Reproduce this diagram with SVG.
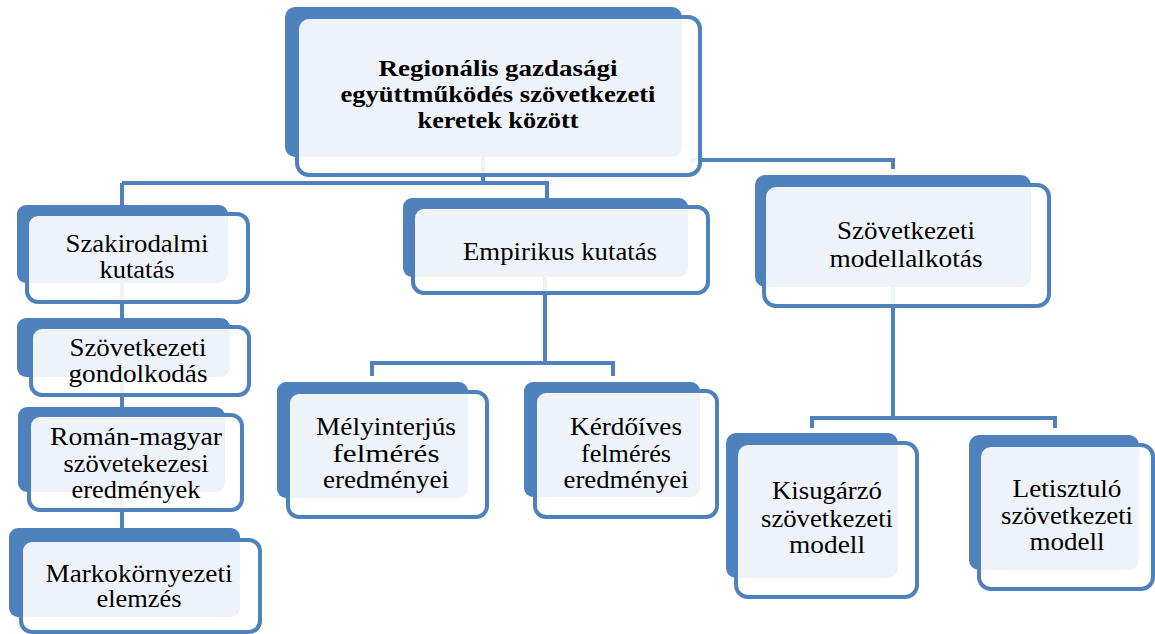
<svg xmlns="http://www.w3.org/2000/svg" width="1155" height="634" viewBox="0 0 1155 634">
<style>
.bk{fill:#4F81BD}
.fr{fill:#FFFFFF;fill-opacity:0.9;stroke:#4F81BD;stroke-width:4}
.cn{fill:none;stroke:#4F81BD;stroke-width:4}
text{font-family:"Liberation Serif","Times New Roman",serif;font-size:25px;fill:#000;text-anchor:middle}
.b{font-weight:bold;font-size:24px}
</style>
<rect width="1155" height="634" fill="#FFFFFF"/>
<g id="connectors">
<path class="cn" d="M483 157V183M122 183H547V199M122 183V528"/>
<path class="cn" d="M690 160H893V169"/>
<path class="cn" d="M545 277V363M372 376V363H613V376"/>
<path class="cn" d="M893 287V418M812 428V418H1055V428"/>
</g>
<g id="root">
<rect class="bk" x="285" y="7" width="397" height="150" rx="10"/>
<rect class="fr" x="297" y="17" width="403" height="158" rx="12"/>
<text class="b" x="498" y="76" textLength="239" lengthAdjust="spacingAndGlyphs">Regionális gazdasági</text>
<text class="b" x="498" y="102" textLength="315" lengthAdjust="spacingAndGlyphs">együttműködés szövetkezeti</text>
<text class="b" x="498" y="128" textLength="161" lengthAdjust="spacingAndGlyphs">keretek között</text>
</g>
<g id="szakirodalmi">
<rect class="bk" x="17" y="205" width="211" height="78" rx="9"/>
<rect class="fr" x="27" y="214" width="221" height="88" rx="11"/>
<text x="137" y="252" textLength="143" lengthAdjust="spacingAndGlyphs">Szakirodalmi</text>
<text x="137" y="278" textLength="75" lengthAdjust="spacingAndGlyphs">kutatás</text>
</g>
<g id="gondolkodas">
<rect class="bk" x="17" y="318" width="213" height="59" rx="9"/>
<rect class="fr" x="31" y="327" width="218" height="68" rx="11"/>
<text x="138" y="356" textLength="137" lengthAdjust="spacingAndGlyphs">Szövetkezeti</text>
<text x="138" y="382" textLength="139" lengthAdjust="spacingAndGlyphs">gondolkodás</text>
</g>
<g id="roman-magyar">
<rect class="bk" x="18" y="407" width="207" height="85" rx="9"/>
<rect class="fr" x="29" y="415" width="213" height="95" rx="11"/>
<text x="136" y="445" textLength="172" lengthAdjust="spacingAndGlyphs">Román-magyar</text>
<text x="136" y="472" textLength="145" lengthAdjust="spacingAndGlyphs">szövetekezesi</text>
<text x="136" y="498" textLength="129" lengthAdjust="spacingAndGlyphs">eredmények</text>
</g>
<g id="markokornyezeti">
<rect class="bk" x="9" y="528" width="231" height="89" rx="9"/>
<rect class="fr" x="21" y="540" width="239" height="92" rx="11"/>
<text x="139" y="582" textLength="187" lengthAdjust="spacingAndGlyphs">Markokörnyezeti</text>
<text x="139" y="607" textLength="85" lengthAdjust="spacingAndGlyphs">elemzés</text>
</g>
<g id="empirikus">
<rect class="bk" x="403" y="198" width="285" height="79" rx="9"/>
<rect class="fr" x="413" y="207" width="295" height="86" rx="11"/>
<text x="560" y="260" textLength="194" lengthAdjust="spacingAndGlyphs">Empirikus kutatás</text>
</g>
<g id="melyinterjus">
<rect class="bk" x="277" y="382" width="191" height="116" rx="9"/>
<rect class="fr" x="288" y="392" width="199" height="125" rx="11"/>
<text x="386" y="435" textLength="140" lengthAdjust="spacingAndGlyphs">Mélyinterjús</text>
<text x="386" y="462" textLength="107" lengthAdjust="spacingAndGlyphs">felmérés</text>
<text x="386" y="488" textLength="126" lengthAdjust="spacingAndGlyphs">eredményei</text>
</g>
<g id="kerdoives">
<rect class="bk" x="524" y="382" width="176" height="115" rx="9"/>
<rect class="fr" x="535" y="391" width="182" height="126" rx="11"/>
<text x="626" y="435" textLength="112" lengthAdjust="spacingAndGlyphs">Kérdőíves</text>
<text x="626" y="462" textLength="90" lengthAdjust="spacingAndGlyphs">felmérés</text>
<text x="626" y="488" textLength="125" lengthAdjust="spacingAndGlyphs">eredményei</text>
</g>
<g id="modellalkotas">
<rect class="bk" x="755" y="175" width="276" height="112" rx="10"/>
<rect class="fr" x="764" y="185" width="285" height="121" rx="12"/>
<text x="906" y="239" textLength="138" lengthAdjust="spacingAndGlyphs">Szövetkezeti</text>
<text x="906" y="267" textLength="153" lengthAdjust="spacingAndGlyphs">modellalkotás</text>
</g>
<g id="kisugarzo">
<rect class="bk" x="726" y="433" width="172" height="145" rx="10"/>
<rect class="fr" x="736" y="443" width="181" height="154" rx="12"/>
<text x="827" y="499" textLength="110" lengthAdjust="spacingAndGlyphs">Kisugárzó</text>
<text x="827" y="527" textLength="132" lengthAdjust="spacingAndGlyphs">szövetkezeti</text>
<text x="827" y="553" textLength="76" lengthAdjust="spacingAndGlyphs">modell</text>
</g>
<g id="letisztulo">
<rect class="bk" x="969" y="435" width="170" height="135" rx="10"/>
<rect class="fr" x="979" y="445" width="174" height="144" rx="12"/>
<text x="1067" y="497" textLength="109" lengthAdjust="spacingAndGlyphs">Letisztuló</text>
<text x="1067" y="524" textLength="132" lengthAdjust="spacingAndGlyphs">szövetkezeti</text>
<text x="1067" y="550" textLength="75" lengthAdjust="spacingAndGlyphs">modell</text>
</g>
</svg>
